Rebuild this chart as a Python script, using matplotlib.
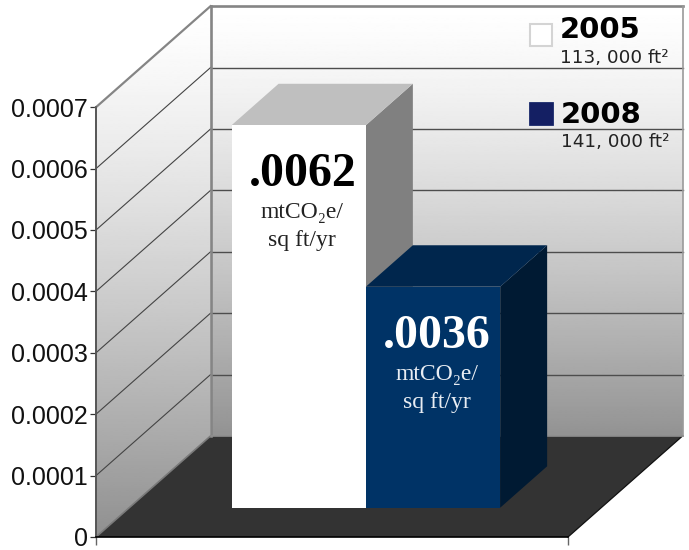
import numpy as np
import matplotlib
matplotlib.use("Agg")
import matplotlib.pyplot as plt
from matplotlib.patches import Polygon, Rectangle

# --- data ---
series_names = ["2005", "2008"]
series_areas = ["113, 000 ft²", "141, 000 ft²"]
series_values = [0.000623, 0.00036]
series_labels = [".0062", ".0036"]
tick_values = [0, 0.0001, 0.0002, 0.0003, 0.0004, 0.0005, 0.0006, 0.0007]
tick_labels = ["0", "0.0001", "0.0002", "0.0003", "0.0004", "0.0005", "0.0006", "0.0007"]
unit_lines = ["mtCO₂e/", "sq ft/yr"]

# --- layout (pixels of the 689x550 picture) ---
W, H = 689, 550
X0_PX, X1_PX = 96.0, 568.0
Y0_PX, PX_PER_UNIT = 537.0, 614000.0
DEPTH_DX_PX, DEPTH_DY_PX = 114.5, 101.0
X_SPAN = X1_PX - X0_PX
BAR_LEFT, BAR_WIDTH = 0.217, 0.2845
DEPTH_FRONT, DEPTH_BACK = 0.29, 0.70
SERIF = ["Liberation Serif", "DejaVu Serif", "DejaVu Sans"]

fig = plt.figure(figsize=(W / 100, H / 100), dpi=100, facecolor="white")
ax = fig.add_axes([0, 0, 1, 1])
ax.set_xlim(-X0_PX / X_SPAN, (W - X0_PX) / X_SPAN)
ax.set_ylim((Y0_PX - H) / PX_PER_UNIT, Y0_PX / PX_PER_UNIT)
ax.patch.set_visible(False)


def proj(x, v, d):
    """Oblique projection: category position, value, depth (0 front, 1 back)."""
    return (x + d * DEPTH_DX_PX / X_SPAN, v + d * DEPTH_DY_PX / PX_PER_UNIT)


def py(pixel_y):
    return (Y0_PX - pixel_y) / PX_PER_UNIT


def px(pixel_x):
    return (pixel_x - X0_PX) / X_SPAN


vmax = tick_values[-1]

# --- walls with vertical gradients ---
def gradient_wall(corners, top_px, bottom_px, top_grey, bottom_grey):
    t = np.linspace(0, 1, 256) ** 1.3
    grad = (top_grey + (bottom_grey - top_grey) * t)[:, None]
    img = ax.imshow(grad, cmap="gray", vmin=0, vmax=1, aspect="auto", zorder=1,
                    extent=(ax.get_xlim()[0], ax.get_xlim()[1], py(bottom_px), py(top_px)),
                    interpolation="bilinear", origin="upper")
    clip = Polygon(corners, closed=True, transform=ax.transData, fill=False, edgecolor="none")
    ax.add_patch(clip)
    img.set_clip_path(clip)


back_wall = [proj(0, 0, 1), proj(1, 0, 1), proj(1, vmax, 1), proj(0, vmax, 1)]
left_wall = [proj(0, 0, 0), proj(0, 0, 1), proj(0, vmax, 1), proj(0, vmax, 0)]
gradient_wall(back_wall, 5, 437, 1.0, 0.575)
gradient_wall(left_wall, 5, 537, 1.0, 0.565)
ax.set_xlim(-X0_PX / X_SPAN, (W - X0_PX) / X_SPAN)
ax.set_ylim((Y0_PX - H) / PX_PER_UNIT, Y0_PX / PX_PER_UNIT)

# --- floor ---
floor = [proj(0, 0, 0), proj(1, 0, 0), proj(1, 0, 1), proj(0, 0, 1)]
ax.add_patch(Polygon(floor, closed=True, facecolor="#333333", edgecolor="none", zorder=2))
ax.plot(*zip(proj(1, 0, 0), proj(1, 0, 1)), color="#111111", lw=0.9, zorder=3)

# --- gridlines ---
for v in tick_values[1:-1]:
    ax.plot(*zip(proj(0, v, 0), proj(0, v, 1)), color="#444444", lw=0.8, zorder=3)
    ax.plot(*zip(proj(0, v, 1), proj(1, v, 1)), color="#4d4d4d", lw=1.0, zorder=3)

# --- frame ---
frame = "#858585"
ax.plot(*zip(proj(0, 0, 0), proj(0, vmax, 0)), color="#555555", lw=1.2, zorder=3)
ax.plot(*zip(proj(0, vmax, 0), proj(0, vmax, 1)), color=frame, lw=1.6, zorder=3)
ax.plot(*zip(proj(0, 0, 1), proj(0, vmax, 1)), color=frame, lw=1.9, zorder=3)
ax.plot(*zip(proj(0, vmax, 1), proj(1, vmax, 1)), color=frame, lw=1.9, zorder=3)
ax.plot(*zip(proj(1, vmax, 1), proj(1, 0, 1)), color="#9a9a9a", lw=1.2, zorder=3)
ax.plot(*zip(proj(0, 0, 0), proj(0, 0, 1)), color="#7a7a7a", lw=1.2, zorder=3)
ax.plot(*zip(proj(0, 0, 1), proj(1, 0, 1)), color="#8f8f8f", lw=1.2, zorder=3)

# --- 3D bars ---
bar_styles = [
    {"front": "#ffffff", "top": "#bfbfbf", "side": "#808080"},
    {"front": "#003366", "top": "#00264d", "side": "#001a33"},
]
LABEL_SHIFT = 3.5 / X_SPAN
for i, (value, style) in enumerate(zip(series_values, bar_styles)):
    x0 = BAR_LEFT + i * BAR_WIDTH
    x1 = x0 + BAR_WIDTH
    z = 4 + i
    ax.add_patch(Polygon([proj(x1, 0, DEPTH_FRONT), proj(x1, 0, DEPTH_BACK),
                          proj(x1, value, DEPTH_BACK), proj(x1, value, DEPTH_FRONT)],
                         closed=True, facecolor=style["side"], edgecolor="none", zorder=z))
    ax.add_patch(Polygon([proj(x0, value, DEPTH_FRONT), proj(x1, value, DEPTH_FRONT),
                          proj(x1, value, DEPTH_BACK), proj(x0, value, DEPTH_BACK)],
                         closed=True, facecolor=style["top"], edgecolor="none", zorder=z))
    ax.add_patch(Polygon([proj(x0, 0, DEPTH_FRONT), proj(x1, 0, DEPTH_FRONT),
                          proj(x1, value, DEPTH_FRONT), proj(x0, value, DEPTH_FRONT)],
                         closed=True, facecolor=style["front"], edgecolor="none", zorder=z))

    # labels on the bar face
    cx = proj((x0 + x1) / 2, 0, DEPTH_FRONT)[0] + LABEL_SHIFT
    top_px = Y0_PX - proj(0, value, DEPTH_FRONT)[1] * PX_PER_UNIT
    colour = "black" if i == 0 else "white"
    sub_colour = "#222222" if i == 0 else "#e8edf3"
    ax.text(cx, py(top_px + 61), series_labels[i], family=SERIF, fontweight="bold",
            fontsize=34.5, color=colour, ha="center", va="baseline", zorder=8)
    for k, line in enumerate(unit_lines):
        ax.text(cx, py(top_px + 93 + 28 * k), line, family=SERIF, fontsize=17,
                color=sub_colour, ha="center", va="baseline", zorder=8)

# --- real axes: left value axis and bottom axis with end ticks ---
for name in ("top", "right"):
    ax.spines[name].set_visible(False)
ax.spines["left"].set_position(("data", 0))
ax.spines["bottom"].set_position(("data", 0))
ax.spines["left"].set_bounds(0, vmax)
ax.spines["bottom"].set_bounds(0, 1)
ax.spines["left"].set_color("#555555")
ax.spines["left"].set_linewidth(1.2)
ax.spines["bottom"].set_color("black")
ax.spines["bottom"].set_linewidth(1.2)
ax.spines["left"].set_zorder(6)
ax.spines["bottom"].set_zorder(6)
ax.set_yticks(tick_values)
ax.set_yticklabels(tick_labels, fontfamily="Liberation Sans", fontsize=18, color="#111111")
ax.set_xticks([0, 1])
ax.set_xticklabels(["", ""])
ax.tick_params(axis="y", direction="out", length=4.4, width=0.9, color="#333333", pad=1.5)
ax.tick_params(axis="x", direction="out", length=6, width=1.0, color="#666666", pad=0)

# --- manual legend ---
swatches = [(530, 24, 22, 22, "white", "#d4d4d4", 1.5),
            (529, 102, 24, 23, "#141f63", "#1a2a6c", 0.6)]
name_rows = [(560, 38, 63), (561, 123, 147)]
for name, area, sw, row in zip(series_names, series_areas, swatches, name_rows):
    x, y, w, h, fc, ec, lw = sw
    ax.add_patch(Rectangle((px(x), py(y + h)), w / X_SPAN, h / PX_PER_UNIT,
                           facecolor=fc, edgecolor=ec, linewidth=lw, zorder=8))
    ax.text(px(row[0]), py(row[1]), name, family="DejaVu Sans", fontweight="bold",
            fontsize=21, color="black", ha="left", va="baseline", zorder=8)
    ax.text(px(row[0]), py(row[2]), area, family="DejaVu Sans", fontsize=13.2,
            color="#222222", ha="left", va="baseline", zorder=8)

fig.savefig("out.png", dpi=100, facecolor="white")
